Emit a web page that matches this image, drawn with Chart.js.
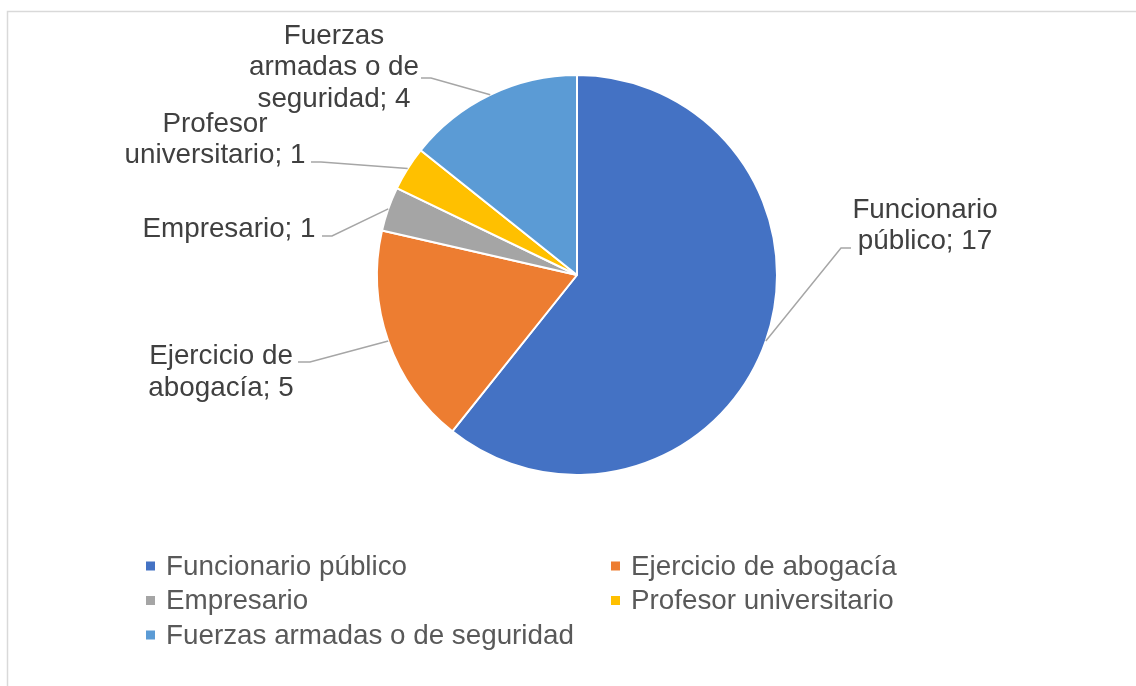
<!DOCTYPE html>
<html>
<head>
<meta charset="utf-8">
<script src="https://cdn.jsdelivr.net/npm/chart.js@4/dist/chart.umd.min.js"></script>
<style>
html,body{margin:0;padding:0;background:#fff;}
#wrap{position:relative;width:1136px;height:686px;overflow:hidden;}
</style>
</head>
<body>
<div id="wrap"><canvas id="c" width="1136" height="686"></canvas></div>
<script>
// ---- data ----
const categories = ['Funcionario público', 'Ejercicio de abogacía', 'Empresario', 'Profesor universitario', 'Fuerzas armadas o de seguridad'];
const values = [17, 5, 1, 1, 4];
const colors = ['#4472C4', '#ED7D31', '#A5A5A5', '#FFC000', '#5B9BD5'];

// ---- layout (label placement, not data) ----
const FONT = '27.8px "Liberation Sans", Arial, sans-serif';
const LABEL_LINE_H = 31.5;
const LABEL_MAX_W = 195;
const labelLayout = [
  {cx: 925, y: 217.5, attach: [851, 248], elbow: [841, 248]},
  {cx: 221, y: 364,   attach: [298, 362], elbow: [310, 362]},
  {cx: 229, y: 236.5, attach: [322, 236], elbow: [332, 236]},
  {cx: 215, y: 131.5, attach: [311, 162], elbow: [321, 162]},
  {cx: 334, y: 43.5,  attach: [421, 78],  elbow: [431, 78]}
];
const legendLayout = {colX: [146, 611], textOff: 20, rowY: [574.5, 609, 643.5], box: 9};

function wrap(ctx, text, maxW) {
  const words = text.split(' ');
  const lines = [];
  let cur = '';
  for (const w of words) {
    const t = cur ? cur + ' ' + w : w;
    if (cur && ctx.measureText(t).width > maxW) { lines.push(cur); cur = w; }
    else cur = t;
  }
  if (cur) lines.push(cur);
  return lines;
}

const overlay = {
  id: 'overlay',
  afterDraw(chart) {
    const ctx = chart.ctx;
    ctx.save();
    // frame
    ctx.strokeStyle = '#d9d9d9';
    ctx.lineWidth = 1.5;
    ctx.beginPath();
    ctx.moveTo(7.5, 700); ctx.lineTo(7.5, 11.5); ctx.lineTo(1140, 11.5);
    ctx.stroke();

    const meta = chart.getDatasetMeta(0);
    ctx.font = FONT;
    meta.data.forEach((arc, i) => {
      const p = arc.getProps(['x', 'y', 'startAngle', 'endAngle', 'outerRadius'], true);
      const mid = (p.startAngle + p.endAngle) / 2;
      const ex = p.x + Math.cos(mid) * p.outerRadius;
      const ey = p.y + Math.sin(mid) * p.outerRadius;
      const L = labelLayout[i];
      // leader line
      ctx.strokeStyle = '#a6a6a6';
      ctx.lineWidth = 1.5;
      ctx.beginPath();
      ctx.moveTo(L.attach[0], L.attach[1]);
      ctx.lineTo(L.elbow[0], L.elbow[1]);
      ctx.lineTo(ex, ey);
      ctx.stroke();
      // text
      const lines = wrap(ctx, categories[i] + '; ' + values[i], LABEL_MAX_W);
      ctx.fillStyle = '#404040';
      ctx.textAlign = 'center';
      ctx.textBaseline = 'alphabetic';
      lines.forEach((ln, k) => ctx.fillText(ln, L.cx, L.y + k * LABEL_LINE_H));
    });

    // legend
    ctx.textAlign = 'left';
    ctx.textBaseline = 'alphabetic';
    categories.forEach((cat, i) => {
      const col = i % 2, row = Math.floor(i / 2);
      const x = legendLayout.colX[col];
      const y = legendLayout.rowY[row];
      ctx.fillStyle = colors[i];
      ctx.fillRect(x, y - 13, legendLayout.box, legendLayout.box);
      ctx.fillStyle = '#595959';
      ctx.fillText(cat, x + legendLayout.textOff, y);
    });
    ctx.restore();
  }
};

new Chart(document.getElementById('c'), {
  type: 'pie',
  data: {
    labels: categories,
    datasets: [{
      data: values,
      backgroundColor: colors,
      borderColor: '#ffffff',
      borderWidth: 2
    }]
  },
  options: {
    responsive: false,
    animation: false,
    layout: {padding: {left: 376, right: 358, top: 74, bottom: 210}},
    plugins: {legend: {display: false}, tooltip: {enabled: false}}
  },
  plugins: [overlay]
});
</script>
</body>
</html>
